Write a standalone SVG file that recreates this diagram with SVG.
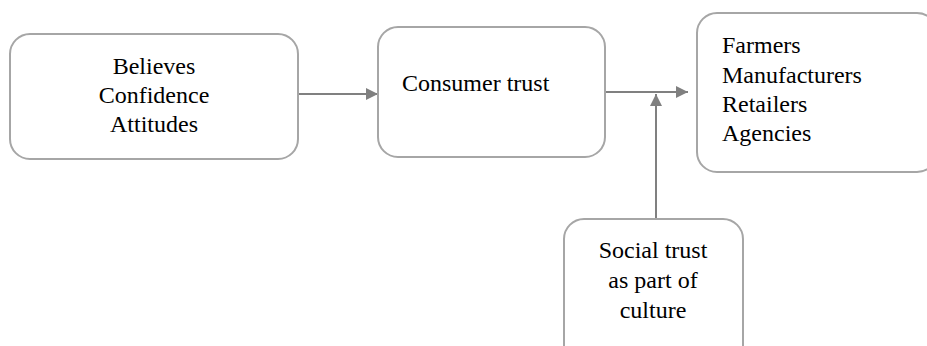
<svg xmlns="http://www.w3.org/2000/svg" width="927" height="346" viewBox="0 0 927 346">
<style>
.box{fill:#fff;stroke:#a6a6a6;stroke-width:2}
.t{font-family:"Liberation Serif",serif;font-size:24px;fill:#000}
.c{text-anchor:middle}
.ln{stroke:#808080;stroke-width:2;fill:none}
</style>
<defs>
<marker id="ah" viewBox="0 0 10 10" refX="10" refY="5" markerWidth="14" markerHeight="12" markerUnits="userSpaceOnUse" orient="auto">
<path d="M0,0 L10,5 L0,10 z" fill="#808080"/>
</marker>
</defs>
<rect width="927" height="346" fill="#fff"/>
<g id="connectors">
<line class="ln" x1="298" y1="94" x2="378" y2="94" marker-end="url(#ah)"/>
<line class="ln" x1="605" y1="92" x2="688" y2="92" marker-end="url(#ah)"/>
<line class="ln" x1="656" y1="219" x2="656" y2="94" marker-end="url(#ah)"/>
</g>
<g id="n1">
<rect class="box" x="10" y="34" width="288" height="125" rx="20"/>
<text class="t c" x="154" y="74">Believes</text>
<text class="t c" x="154" y="103">Confidence</text>
<text class="t c" x="154" y="132">Attitudes</text>
</g>
<g id="n2">
<rect class="box" x="378" y="27" width="227" height="130" rx="20"/>
<text class="t" x="402" y="91">Consumer trust</text>
</g>
<g id="n3">
<rect class="box" x="697" y="13" width="240" height="159" rx="20"/>
<text class="t" x="722" y="53">Farmers</text>
<text class="t" x="722" y="83">Manufacturers</text>
<text class="t" x="722" y="112">Retailers</text>
<text class="t" x="722" y="141">Agencies</text>
</g>
<g id="n4">
<rect class="box" x="564" y="219" width="179" height="150" rx="20"/>
<text class="t c" x="653" y="258">Social trust</text>
<text class="t c" x="653" y="288">as part of</text>
<text class="t c" x="653" y="318">culture</text>
</g>
</svg>
